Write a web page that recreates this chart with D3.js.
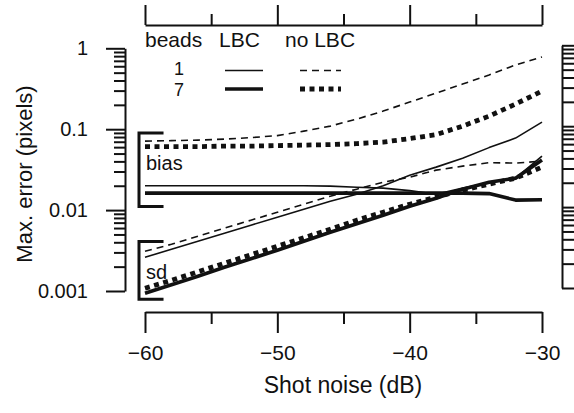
<!DOCTYPE html>
<html>
<head>
<meta charset="utf-8">
<script src="https://cdn.jsdelivr.net/npm/d3@7"></script>
<style>
  body { margin: 0; background: #fff; }
  svg { display: block; }
  text { font-family: "Liberation Sans", Arial, Helvetica, sans-serif; fill: #111; }
</style>
</head>
<body>
<svg id="chart" width="574" height="413"></svg>
<script>
// Shot noise levels (dB)
const noiseDb = [-60, -58, -56, -54, -52, -50, -48, -46, -44, -42, -40, -38, -36, -34, -32, -30];

// Maximum bias (pixels)
const biasNoLbc1 = [0.0712, 0.0722, 0.0733, 0.0754, 0.0787, 0.0833, 0.0947, 0.1092, 0.1334, 0.1675, 0.2164, 0.2797, 0.3615, 0.4676, 0.623, 0.783];
const biasNoLbc7 = [0.0609, 0.0609, 0.0609, 0.0618, 0.0618, 0.0627, 0.0636, 0.0645, 0.0663, 0.0692, 0.0765, 0.0858, 0.1092, 0.1453, 0.2045, 0.296];
const biasLbc1   = [0.0200, 0.0200, 0.0200, 0.0200, 0.0200, 0.0200, 0.0200, 0.0198, 0.0192, 0.0187, 0.0174, 0.0157, 0.0187, 0.0218, 0.0248, 0.0465];
const biasLbc7   = [0.0162, 0.0162, 0.0162, 0.0162, 0.0162, 0.0162, 0.0162, 0.0162, 0.0162, 0.0162, 0.0162, 0.0162, 0.0162, 0.0160, 0.0133, 0.0134];

// Maximum standard deviation (pixels)
const sdNoLbc1 = [0.0031, 0.00378, 0.00475, 0.00597, 0.0075, 0.00942, 0.01183, 0.01486, 0.01815, 0.02215, 0.02553, 0.03118, 0.03493, 0.0386, 0.0381, 0.0403];
const sdNoLbc7 = [0.00108, 0.001356, 0.001728, 0.002203, 0.002806, 0.003573, 0.004553, 0.0058, 0.0075, 0.00942, 0.01183, 0.01444, 0.01763, 0.02091, 0.02483, 0.034];
const sdLbc1   = [0.00261, 0.00328, 0.00412, 0.00518, 0.0065, 0.00817, 0.01026, 0.0129, 0.01573, 0.02004, 0.02704, 0.03398, 0.04389, 0.0592, 0.0776, 0.1225];
const sdLbc7   = [0.000936, 0.001193, 0.00152, 0.001965, 0.002503, 0.00319, 0.00412, 0.00533, 0.00679, 0.00865, 0.01117, 0.01404, 0.01815, 0.02214, 0.02483, 0.0415];

// Axis ticks
const xMajorTicks = [-60, -50, -40, -30];
const xMinorTicks = [-55, -45, -35];
const yMajorTicks = [1, 0.1, 0.01, 0.001];
const yMajorLabels = ["1", "0.1", "0.01", "0.001"];
const yMinorTicks = [0.002, 0.003, 0.004, 0.005, 0.006, 0.007, 0.008, 0.009,
                     0.02, 0.03, 0.04, 0.05, 0.06, 0.07, 0.08, 0.09,
                     0.2, 0.3, 0.4, 0.5, 0.6, 0.7, 0.8, 0.9];

// Group brackets [top, bottom] in pixels of error
const biasBracket = [0.09, 0.0111];
const sdBracket = [0.0041, 0.00079];

const svg = d3.select("#chart");
const ink = "#111";

const x = d3.scaleLinear().domain([-60, -30]).range([145, 542]);
const y = d3.scaleLog().domain([0.001, 1]).range([291, 48.3]);

// Line styles
const styles = {
  lbc1:   { width: 1.6, dash: null },
  lbc7:   { width: 3.6, dash: null },
  nolbc1: { width: 1.6, dash: "7,5" },
  nolbc7: { width: 4.8, dash: "5,4.5" }
};

const series = [
  { values: biasNoLbc1, style: "nolbc1" },
  { values: biasNoLbc7, style: "nolbc7" },
  { values: biasLbc7,   style: "lbc7" },
  { values: biasLbc1,   style: "lbc1" },
  { values: sdNoLbc1,   style: "nolbc1" },
  { values: sdNoLbc7,   style: "nolbc7" },
  { values: sdLbc7,     style: "lbc7" },
  { values: sdLbc1,     style: "lbc1" }
];

const line = d3.line()
  .x((d, i) => x(noiseDb[i]))
  .y(d => y(d));

function styleAxis(g, w) {
  g.selectAll("path.domain").attr("stroke", ink).attr("stroke-width", w);
  g.selectAll(".tick line").attr("stroke", ink).attr("stroke-width", w);
}

// Bottom axis
const gBottom = svg.append("g").attr("transform", "translate(0,312)");
gBottom.call(d3.axisBottom(x).tickValues(xMajorTicks).tickSize(21).tickSizeOuter(0)
  .tickPadding(12).tickFormat(d => "\u2212" + Math.abs(d)));
gBottom.append("g").call(d3.axisBottom(x).tickValues(xMinorTicks).tickSize(12).tickSizeOuter(0).tickFormat(""))
  .select("path.domain").remove();
styleAxis(gBottom, 2);
gBottom.selectAll("text").attr("font-size", 21).attr("fill", ink)
  .attr("font-family", "'Liberation Sans', Arial, sans-serif");

// Top axis (unlabelled)
const gTop = svg.append("g").attr("transform", "translate(0,25)");
gTop.call(d3.axisTop(x).tickValues(xMajorTicks).tickSize(20).tickSizeOuter(0).tickFormat(""));
gTop.append("g").call(d3.axisTop(x).tickValues(xMinorTicks).tickSize(11).tickSizeOuter(0).tickFormat(""))
  .select("path.domain").remove();
styleAxis(gTop, 2);

// Left axis
const gLeft = svg.append("g").attr("transform", "translate(125,0)");
gLeft.call(d3.axisLeft(y).tickValues(yMajorTicks).tickSize(19).tickSizeOuter(0)
  .tickPadding(18).tickFormat((d, i) => yMajorLabels[i]));
gLeft.append("g").call(d3.axisLeft(y).tickValues(yMinorTicks).tickSize(11).tickSizeOuter(0).tickFormat(""))
  .select("path.domain").remove();
styleAxis(gLeft, 2);
gLeft.selectAll("text").attr("font-size", 20).attr("fill", ink)
  .attr("font-family", "'Liberation Sans', Arial, sans-serif");

// Right axis (unlabelled)
const gRight = svg.append("g").attr("transform", "translate(562,-3)");
gRight.call(d3.axisRight(y).tickValues(yMajorTicks).tickSize(19).tickSizeOuter(0).tickFormat(""));
gRight.append("g").call(d3.axisRight(y).tickValues(yMinorTicks).tickSize(13).tickSizeOuter(0).tickFormat(""))
  .select("path.domain").remove();
styleAxis(gRight, 2);

// Axis titles
svg.append("text")
  .attr("x", 343).attr("y", 393)
  .attr("text-anchor", "middle")
  .attr("font-size", 23)
  .text("Shot noise (dB)");

svg.append("text")
  .attr("transform", "translate(32,174) rotate(-90)")
  .attr("text-anchor", "middle")
  .attr("font-size", 22)
  .text("Max. error (pixels)");

// Group brackets and labels
const bx0 = x(-60) - 6, bx1 = x(-58.6);
[biasBracket, sdBracket].forEach(b => {
  svg.append("path")
    .attr("d", `M${bx1},${y(b[0])}H${bx0}V${y(b[1])}H${bx1}`)
    .attr("fill", "none").attr("stroke", ink).attr("stroke-width", 3);
});
svg.append("text").attr("x", x(-60) + 1).attr("y", y(0.0315)).attr("font-size", 20).text("bias");
svg.append("text").attr("x", x(-60) + 1).attr("y", y(0.00142)).attr("font-size", 20).text("sd");

// Data lines
svg.append("g").selectAll("path")
  .data(series)
  .join("path")
  .attr("d", d => line(d.values))
  .attr("fill", "none")
  .attr("stroke", ink)
  .attr("stroke-width", d => styles[d.style].width)
  .attr("stroke-dasharray", d => styles[d.style].dash)
  .attr("stroke-linejoin", "round");

// Legend
const legend = svg.append("g");
legend.append("text").attr("x", 145).attr("y", 47).attr("font-size", 21).text("beads");
legend.append("text").attr("x", 219).attr("y", 47).attr("font-size", 21).text("LBC");
legend.append("text").attr("x", 285).attr("y", 47).attr("font-size", 21).text("no LBC");
const legendRows = [
  { label: "1", y: 70.5, base: 75, lbc: "lbc1", nolbc: "nolbc1" },
  { label: "7", y: 89, base: 95.5, lbc: "lbc7", nolbc: "nolbc7" }
];
legendRows.forEach(r => {
  legend.append("text").attr("x", 179).attr("y", r.base).attr("text-anchor", "middle")
    .attr("font-size", 18).text(r.label);
  legend.append("line").attr("x1", 225).attr("x2", 263).attr("y1", r.y).attr("y2", r.y)
    .attr("stroke", ink).attr("stroke-width", styles[r.lbc].width);
  legend.append("line").attr("x1", 300).attr("x2", 341).attr("y1", r.y).attr("y2", r.y)
    .attr("stroke", ink).attr("stroke-width", styles[r.nolbc].width)
    .attr("stroke-dasharray", styles[r.nolbc].dash);
});
</script>
</body>
</html>
